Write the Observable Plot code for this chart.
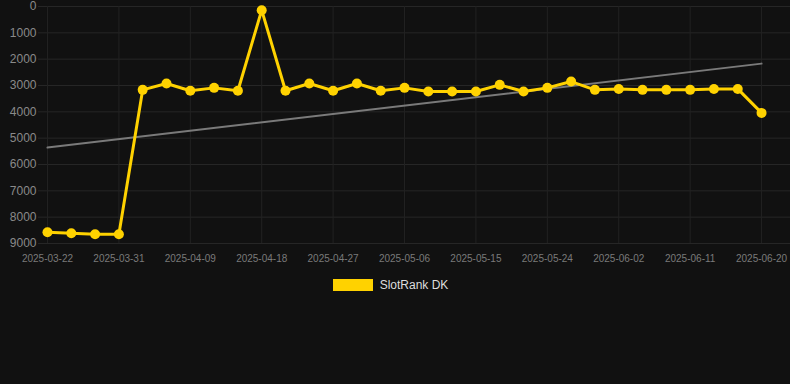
<!DOCTYPE html>
<html>
<head>
<meta charset="utf-8">
<script src="https://cdn.jsdelivr.net/npm/d3@7"></script>
<script src="https://cdn.jsdelivr.net/npm/@observablehq/plot@0.6"></script>
<style>
  html, body { margin: 0; padding: 0; background: #111111; }
  body { width: 790px; height: 384px; overflow: hidden; font-family: Arial, "Liberation Sans", sans-serif; }
  #chart svg { display: block; }
  .legend { display: flex; justify-content: center; align-items: center; margin-top: 8px; gap: 7px; color: #dddddd; font-size: 12px; padding-right: 9px; }
  .legend .sw { width: 40px; height: 12px; background: #FFD200; }
</style>
</head>
<body>
<div id="chart"></div>
<div class="legend"><span class="sw"></span><span>SlotRank DK</span></div>
<script>
const dates = ["2025-03-22","2025-03-25","2025-03-28","2025-03-31","2025-04-03","2025-04-06","2025-04-09","2025-04-12","2025-04-15","2025-04-18","2025-04-21","2025-04-24","2025-04-27","2025-04-30","2025-05-03","2025-05-06","2025-05-09","2025-05-12","2025-05-15","2025-05-18","2025-05-21","2025-05-24","2025-05-27","2025-05-30","2025-06-02","2025-06-05","2025-06-08","2025-06-11","2025-06-14","2025-06-17","2025-06-20"];
const ranks = [8570,8610,8650,8650,3165,2925,3200,3090,3200,140,3200,2925,3200,2925,3200,3090,3230,3230,3230,2975,3230,3090,2850,3165,3130,3165,3165,3165,3130,3130,4040];
const xTickLabels = ["2025-03-22","2025-03-31","2025-04-09","2025-04-18","2025-04-27","2025-05-06","2025-05-15","2025-05-24","2025-06-02","2025-06-11","2025-06-20"];
const yTicks = [0,1000,2000,3000,4000,5000,6000,7000,8000,9000];
const seriesName = "SlotRank DK";

const parse = d3.utcParse("%Y-%m-%d");
const data = dates.map((d, i) => ({date: parse(d), rank: ranks[i], series: seriesName}));
const xTicks = xTickLabels.map(parse);
const fmt = d3.utcFormat("%Y-%m-%d");

const H = 270;
const chart = Plot.plot({
  width: 790,
  height: H,
  marginLeft: 38,
  marginRight: 0,
  marginTop: 6,
  marginBottom: H - 243,
  style: {background: "#111111", fontFamily: "Arial, 'Liberation Sans', sans-serif"},
  x: {type: "utc", domain: [new Date(Date.UTC(2025,2,20,20,48)), new Date(Date.UTC(2025,5,23,15,36))]},
  y: {domain: [0, 9000], reverse: true},
  marks: [
    Plot.ruleY(yTicks, {stroke: "#262626", strokeWidth: 1}),
    Plot.ruleX(xTicks, {y1: 0, y2: 9000, stroke: "#222222", strokeWidth: 1}),
    Plot.axisY(yTicks, {tickSize: 0, tickPadding: 2, fontSize: 12, fill: "#8a8a8a", label: null, tickFormat: d3.format("d")}),
    Plot.axisX(xTicks, {tickSize: 0, tickPadding: 11, fontSize: 10, fill: "#7a7a7a", label: null, tickFormat: fmt}),
    Plot.linearRegressionY(data, {x: "date", y: "rank", stroke: "#7a7a7a", strokeWidth: 2, ci: 0}),
    Plot.line(data, {x: "date", y: "rank", stroke: "#FFD200", strokeWidth: 3}),
    Plot.dot(data, {x: "date", y: "rank", fill: "#FFD200", r: 5})
  ]
});
document.getElementById("chart").appendChild(chart);
</script>
</body>
</html>
